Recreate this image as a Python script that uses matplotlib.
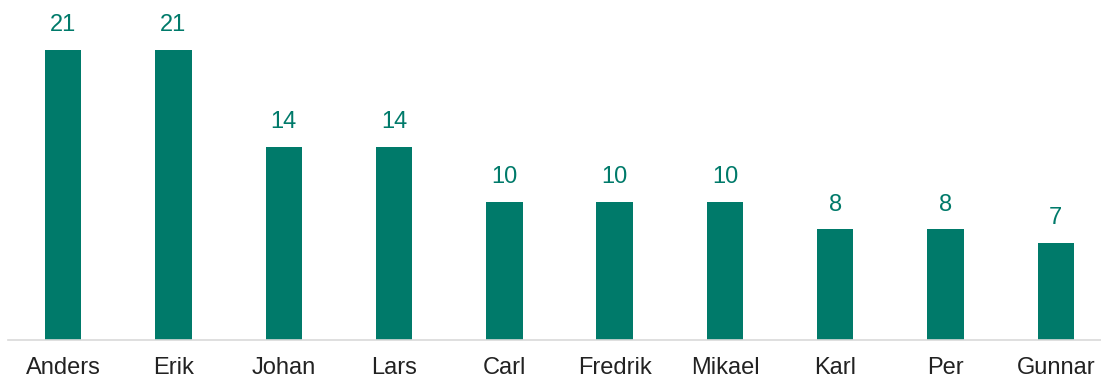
import matplotlib.pyplot as plt

names = ["Anders", "Erik", "Johan", "Lars", "Carl", "Fredrik", "Mikael", "Karl", "Per", "Gunnar"]
counts = [21, 21, 14, 14, 10, 10, 10, 8, 8, 7]

bar_color = "#007A6A"
plt.rcParams['font.family'] = ['Liberation Sans', 'DejaVu Sans']

fig = plt.figure(figsize=(11.01, 3.79), dpi=100)
# axes spans past the right edge so the last slot keeps full width
ax = fig.add_axes([8 / 1101, 39 / 379, 1103 / 1101, 340 / 379])

x = range(len(names))
bars = ax.bar(x, counts, width=0.33, color=bar_color)
ax.bar_label(bars, labels=[str(c) for c in counts], padding=10,
             color=bar_color, fontsize=17)

ax.set_xlim(-0.5, len(names) - 0.5)
ax.set_ylim(0, 24.6)
ax.set_xticks(list(x))
ax.set_xticklabels(names, fontsize=17, color="#222222")
ax.tick_params(axis='x', length=0, pad=12)
ax.set_yticks([])
for side in ["top", "right", "left"]:
    ax.spines[side].set_visible(False)
ax.spines["bottom"].set_color("#d9d9d9")
ax.spines["bottom"].set_linewidth(1.2)

fig.savefig("out.png", dpi=100)
